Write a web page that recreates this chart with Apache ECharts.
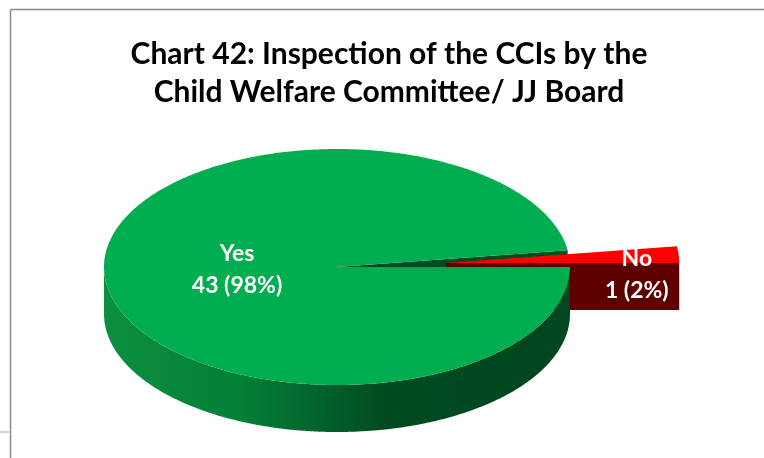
<!DOCTYPE html>
<html>
<head>
<meta charset="utf-8">
<script src="https://cdn.jsdelivr.net/npm/echarts@6/dist/echarts.min.js"></script>
<style>
  html, body { margin: 0; padding: 0; background: #ffffff; }
  #chart { width: 764px; height: 458px; }
</style>
</head>
<body>
<div id="chart"></div>
<script>
// Inspection of the CCIs — counts per answer
const categories = ['Yes', 'No'];
const counts = [43, 1];
const percentLabels = ['98%', '2%'];

// Slice colours: top face, radial cut face
const topColors = ['#00ad4f', '#ff0000'];
const cutColors = ['#004b21', '#5e0000'];

// Pie geometry (pixels) for the tilted 3-D look
const pie = { cx: 337, cy: 267, rx: 233, ry: 118, depth: 47 };
const explode = [0, 0.47];          // fraction of rx each slice is pulled out
const labelRadius = [0.43, 0.82];   // label anchor as fraction of radius
const labelShiftY = [-1, 18];

const total = counts.reduce((a, b) => a + b, 0);
const DEG = Math.PI / 180;

// Slices run clockwise from 3 o'clock, like a spreadsheet pie
function sliceAngles() {
  const out = [];
  let a = 360;
  counts.forEach(v => {
    const sweep = v / total * 360;
    out.push({ a0: a - sweep, a1: a });
    a -= sweep;
  });
  return out;
}
const angles = sliceAngles();

function pt(cx, cy, deg, f, dz) {
  return [cx + pie.rx * f * Math.cos(deg * DEG), cy - pie.ry * f * Math.sin(deg * DEG) + (dz || 0)];
}

function arcPoints(cx, cy, s, e, dz) {
  const pts = [];
  const n = Math.max(2, Math.ceil(Math.abs(e - s) / 0.5));
  for (let i = 0; i <= n; i++) pts.push(pt(cx, cy, s + (e - s) * i / n, 1, dz));
  return pts;
}

function renderItem(params, api) {
  const i = params.dataIndex;
  const { a0, a1 } = angles[i];
  const mid = (a0 + a1) / 2;
  const off = explode[i] * pie.rx;
  const cx = pie.cx + off * Math.cos(mid * DEG);
  const cy = pie.cy - off * Math.sin(mid * DEG) * pie.ry / pie.rx;
  const d = pie.depth;
  const children = [];

  // nearer faces (larger screen y) are painted later
  const depthKey = y => Math.round(y * 10);

  // outer curved wall: only the front half (180°..360°) faces the viewer
  const lo = Math.max(a0, 180), hi = Math.min(a1, 360);
  if (hi > lo) {
    const top = arcPoints(cx, cy, lo, hi, 0);
    const bot = arcPoints(cx, cy, lo, hi, d).reverse();
    const midPt = pt(cx, cy, (lo + hi) / 2, 1, 0);
    children.push({
      type: 'polygon',
      z2: depthKey(midPt[1]),
      shape: { points: top.concat(bot) },
      style: {
        fill: i === 0 ? new echarts.graphic.LinearGradient(0, 0, 1, 0, [
          { offset: 0, color: '#0c8f3f' },
          { offset: 0.3, color: '#037f37' },
          { offset: 0.6, color: '#004b21' },
          { offset: 1, color: '#00461f' }
        ]) : cutColors[i]
      }
    });
  }

  // radial cut faces that face the viewer
  const radial = [];
  if (Math.cos(a0 * DEG) > 0) radial.push(a0);
  if (Math.cos(a1 * DEG) < 0) radial.push(a1);
  radial.forEach(a => {
    const rim = pt(cx, cy, a, 1, 0);
    children.push({
      type: 'polygon',
      z2: depthKey((cy + rim[1]) / 2),
      shape: { points: [[cx, cy], rim, [rim[0], rim[1] + d], [cx, cy + d]] },
      style: { fill: cutColors[i] }
    });
  });

  // top face, above every wall
  children.push({
    type: 'polygon',
    z2: 20000 + i,
    shape: { points: [[cx, cy]].concat(arcPoints(cx, cy, a0, a1, 0)) },
    style: { fill: topColors[i] }
  });

  // value label
  const lp = pt(cx, cy, mid, labelRadius[i], labelShiftY[i]);
  children.push({
    type: 'text',
    z2: 30000,
    x: lp[0],
    y: lp[1],
    style: {
      text: categories[i] + '\n' + api.value(0) + ' (' + percentLabels[i] + ')',
      fill: '#ffffff',
      font: 'bold 23px Lato, "Open Sans", sans-serif',
      lineHeight: 32,
      align: 'center',
      verticalAlign: 'middle'
    }
  });

  return { type: 'group', children };
}

const chart = echarts.init(document.getElementById('chart'), null, { renderer: 'canvas' });
chart.setOption({
  backgroundColor: '#ffffff',
  animation: false,
  title: {
    text: 'Chart 42: Inspection of the CCIs by the\nChild Welfare Committee/ JJ Board',
    left: 384,
    top: 30,
    textAlign: 'center',
    textStyle: {
      fontFamily: 'Lato, "Open Sans", sans-serif',
      fontWeight: 'bold',
      fontSize: 30,
      lineHeight: 38,
      color: '#000000'
    }
  },
  graphic: [
    { type: 'line', shape: { x1: 10.5, y1: 9.5, x2: 764, y2: 9.5 }, style: { stroke: '#8a8a8a', lineWidth: 1.5 } },
    { type: 'line', shape: { x1: 10.5, y1: 9.5, x2: 10.5, y2: 458 }, style: { stroke: '#8a8a8a', lineWidth: 1.5 } },
    { type: 'line', shape: { x1: 0, y1: 432, x2: 9, y2: 432 }, style: { stroke: '#cfcfcf', lineWidth: 2 } }
  ],
  series: [{
    type: 'custom',
    coordinateSystem: 'none',
    renderItem: renderItem,
    data: counts.map((v, i) => ({ name: categories[i], value: [v] }))
  }]
});
</script>
</body>
</html>
